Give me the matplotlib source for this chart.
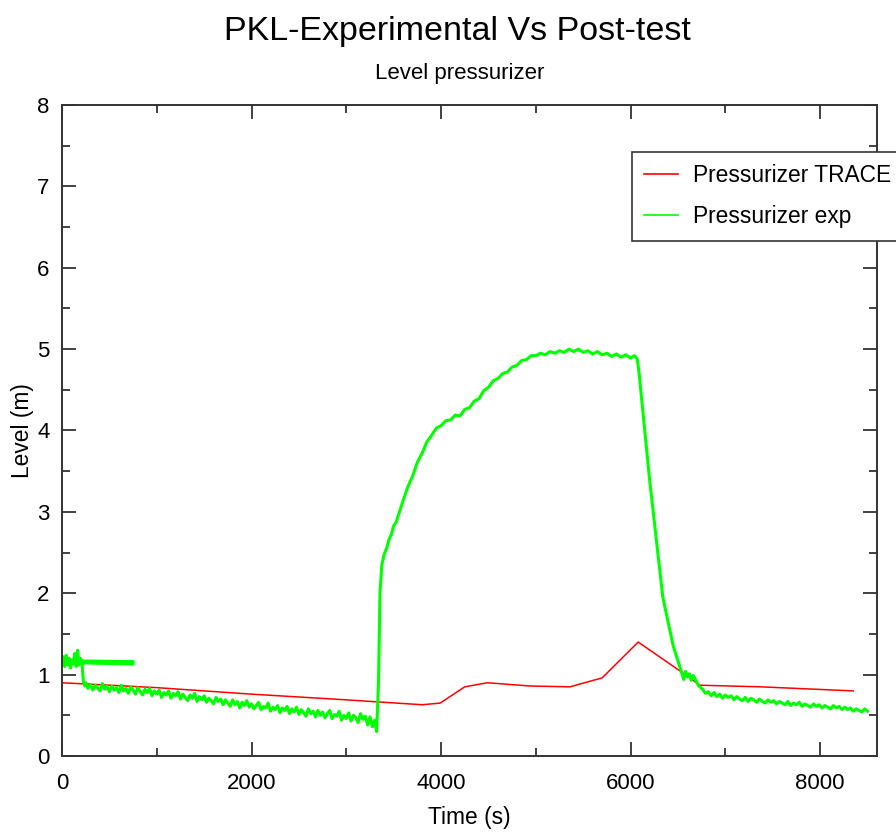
import matplotlib.pyplot as plt
from matplotlib.ticker import MultipleLocator

plt.rcParams['font.family'] = ['Liberation Sans', 'DejaVu Sans']

# TRACE post-test result
t_trace = [0, 1000, 2000, 3000, 3800, 3990, 4250, 4490, 4940, 5360, 5700,
           6080, 6540, 6730, 7370, 8350]
lvl_trace = [0.90, 0.84, 0.76, 0.69, 0.63, 0.65, 0.85, 0.90, 0.86, 0.85, 0.96,
             1.40, 1.03, 0.87, 0.85, 0.80]

# experimental signal
# start (incl. the stray horizontal stroke back to t=0)
t_exp_a = [0, 750, 750, 0, 15, 30, 45, 60, 75, 90, 105, 120, 135, 150, 165,
           180, 195, 210, 225, 240]
lvl_exp_a = [1.17, 1.16, 1.13, 1.15, 1.22, 1.10, 1.24, 1.12, 1.20, 1.08, 1.18,
             1.14, 1.26, 1.10, 1.30, 1.12, 1.20, 1.15, 0.92, 0.86]

# slow drain before the refill
t_exp_b = [250, 275, 300, 325, 350, 375, 400, 425, 450, 475,
           500, 525, 550, 575, 600, 625, 650, 675, 700, 725,
           750, 775, 800, 825, 850, 875, 900, 925, 950, 975,
           1000, 1025, 1050, 1075, 1100, 1125, 1150, 1175, 1200, 1225,
           1250, 1275, 1300, 1325, 1350, 1375, 1400, 1425, 1450, 1475,
           1500, 1525, 1550, 1575, 1600, 1625, 1650, 1675, 1700, 1725,
           1750, 1775, 1800, 1825, 1850, 1875, 1900, 1925, 1950, 1975,
           2000, 2025, 2050, 2075, 2100, 2125, 2150, 2175, 2200, 2225,
           2250, 2275, 2300, 2325, 2350, 2375, 2400, 2425, 2450, 2475,
           2500, 2525, 2550, 2575, 2600, 2625, 2650, 2675, 2700, 2725,
           2750, 2775, 2800, 2825, 2850, 2875, 2900, 2925, 2950, 2975,
           3000, 3025, 3050, 3075, 3100, 3125, 3150, 3175, 3200, 3225,
           3250, 3275, 3300, 3320]
lvl_exp_b = [0.90, 0.83, 0.88, 0.81, 0.87, 0.84, 0.80, 0.89, 0.82, 0.86,
             0.79, 0.86, 0.81, 0.84, 0.78, 0.87, 0.80, 0.83, 0.77, 0.85,
             0.81, 0.76, 0.84, 0.79, 0.75, 0.82, 0.78, 0.83, 0.74, 0.80,
             0.76, 0.81, 0.72, 0.78, 0.75, 0.80, 0.71, 0.77, 0.74, 0.79,
             0.70, 0.76, 0.72, 0.68, 0.75, 0.71, 0.77, 0.67, 0.73, 0.69,
             0.74, 0.66, 0.71, 0.68, 0.64, 0.72, 0.67, 0.70, 0.63, 0.69,
             0.65, 0.61, 0.69, 0.63, 0.67, 0.59, 0.66, 0.62, 0.68, 0.60,
             0.64, 0.58, 0.62, 0.66, 0.57, 0.61, 0.59, 0.65, 0.55, 0.60,
             0.57, 0.62, 0.53, 0.59, 0.56, 0.61, 0.52, 0.58, 0.54, 0.60,
             0.51, 0.57, 0.53, 0.49, 0.58, 0.52, 0.55, 0.48, 0.56, 0.50,
             0.54, 0.47, 0.52, 0.56, 0.46, 0.51, 0.49, 0.55, 0.44, 0.50,
             0.46, 0.53, 0.43, 0.50, 0.47, 0.41, 0.52, 0.45, 0.49, 0.38,
             0.48, 0.36, 0.44, 0.30]

# refill, plateau and drop
t_exp_c = [3340, 3355, 3375, 3400, 3425, 3450, 3475, 3500, 3525, 3550, 3575,
           3600, 3650, 3700, 3750, 3800, 3850, 3900, 3950, 4000, 4050, 4100,
           4150, 4200, 4250, 4300, 4350, 4400, 4450, 4500, 4550, 4600, 4650,
           4700, 4750, 4800, 4850, 4900, 4950, 5000, 5050, 5100, 5150, 5200,
           5250, 5300, 5350, 5400, 5450, 5500, 5550, 5600, 5650, 5700, 5750,
           5800, 5850, 5900, 5950, 6000, 6040, 6070,
           6090, 6200, 6340, 6450, 6540, 6560, 6580, 6600, 6620, 6640, 6660,
           6680, 6700, 6720, 6740]
lvl_exp_c = [0.90, 2.00, 2.35, 2.48, 2.55, 2.66, 2.72, 2.83, 2.87, 2.96, 3.05,
             3.14, 3.31, 3.44, 3.61, 3.72, 3.86, 3.94, 4.03, 4.06, 4.12, 4.13,
             4.19, 4.18, 4.26, 4.28, 4.36, 4.39, 4.49, 4.53, 4.61, 4.64, 4.70,
             4.72, 4.78, 4.80, 4.86, 4.87, 4.92, 4.92, 4.95, 4.93, 4.97, 4.95,
             4.98, 4.96, 5.00, 4.97, 5.00, 4.96, 4.98, 4.94, 4.97, 4.93, 4.95,
             4.91, 4.94, 4.90, 4.93, 4.89, 4.92, 4.88,
             4.70, 3.40, 1.95, 1.35, 1.02, 0.94, 1.04, 0.97, 1.01, 0.93, 0.99,
             0.95, 0.90, 0.86, 0.84]

# tail
t_exp_d = [6760, 6790, 6820, 6850, 6880, 6910, 6940, 6970, 7000, 7030,
           7060, 7090, 7120, 7150, 7180, 7210, 7240, 7270, 7300, 7330,
           7360, 7390, 7420, 7450, 7480, 7510, 7540, 7570, 7600, 7630,
           7660, 7690, 7720, 7750, 7780, 7810, 7840, 7870, 7900, 7930,
           7960, 7990, 8020, 8050, 8080, 8110, 8140, 8170, 8200, 8230,
           8260, 8290, 8320, 8350, 8380, 8410, 8440, 8470, 8500]
lvl_exp_d = [0.82, 0.77, 0.79, 0.74, 0.78, 0.73, 0.76, 0.71, 0.75, 0.72,
             0.74, 0.69, 0.73, 0.70, 0.68, 0.72, 0.67, 0.71, 0.69, 0.66,
             0.70, 0.67, 0.65, 0.69, 0.66, 0.68, 0.64, 0.67, 0.65, 0.63,
             0.67, 0.62, 0.65, 0.63, 0.66, 0.61, 0.64, 0.62, 0.60, 0.64,
             0.61, 0.63, 0.59, 0.62, 0.60, 0.58, 0.62, 0.59, 0.61, 0.57,
             0.60, 0.57, 0.59, 0.55, 0.58, 0.56, 0.54, 0.58, 0.55]

t_exp = t_exp_a + t_exp_b + t_exp_c + t_exp_d
lvl_exp = lvl_exp_a + lvl_exp_b + lvl_exp_c + lvl_exp_d

fig = plt.figure(figsize=(8.96, 8.36), dpi=100)
ax = fig.add_axes([0.0692, 0.0957, 0.9096, 0.7787])

ax.plot(t_trace, lvl_trace, color='#ff0000', lw=1.1, label='Pressurizer TRACE')
ax.plot(t_exp, lvl_exp, color='#00ff00', lw=2.2, label='Pressurizer exp')

ax.set_xlim(0, 8600)
ax.set_ylim(0, 8)
ax.xaxis.set_major_locator(MultipleLocator(2000))
ax.xaxis.set_minor_locator(MultipleLocator(1000))
ax.yaxis.set_major_locator(MultipleLocator(1))
ax.yaxis.set_minor_locator(MultipleLocator(0.5))
ax.tick_params(which='both', direction='in', top=True, right=True,
               color='#333333', width=1.3, labelsize=16)
ax.tick_params(axis='x', pad=12)
ax.tick_params(axis='y', pad=9)
ax.tick_params(which='major', length=10)
ax.tick_params(which='minor', length=6)
for s in ax.spines.values():
    s.set_color('#333333')
    s.set_linewidth(1.4)

ax.set_xlabel('Time (s)', fontsize=16.4, labelpad=9)
ax.set_ylabel('Level (m)', fontsize=16.4, labelpad=2)

fig.text(0.511, 0.962, 'PKL-Experimental Vs Post-test', ha='center',
         va='center', fontsize=24.5)
fig.text(0.513, 0.912, 'Level pressurizer', ha='center', va='center',
         fontsize=16)

leg = ax.legend(loc='upper left', bbox_to_anchor=(0.699, 0.928), fontsize=16.4,
                fancybox=False, framealpha=1, edgecolor='#333333',
                handlelength=1.5, handletextpad=0.65, borderpad=0.55,
                labelspacing=0.78, borderaxespad=0)
leg.get_frame().set_linewidth(1.2)
for ln in leg.get_lines():
    ln.set_linewidth(1.2)
leg.set_clip_on(False)

fig.savefig('out.png', dpi=100)
